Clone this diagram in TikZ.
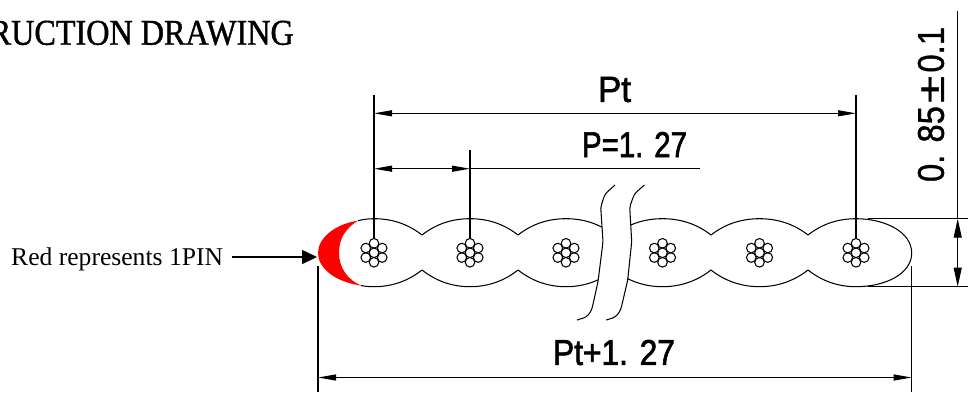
\documentclass[tikz,border=0pt]{standalone}
\usepackage{fontspec}
\setmainfont{Liberation Serif}
\newfontfamily\dimfont{Liberation Sans}
\usetikzlibrary{arrows.meta}
\newcommand{\heavy}[2]{\special{pdf:code 2 Tr #1 w}#2\special{pdf:code 0 Tr}}
\tikzset{
  x=1pt,y=-1pt,
  cad/.style={line width=1.05pt,black},
  extline/.style={line width=1.1pt,black},
  dimline/.style={line width=1.1pt,black,{Triangle[length=18pt,width=6pt]}-{Triangle[length=18pt,width=6pt]}},
  vdim/.style={line width=1.1pt,black,{Triangle[length=19pt,width=8pt]}-{Triangle[length=19pt,width=8pt]}},
  callout/.style={line width=1.6pt,black,-{Triangle[length=15pt,width=14pt]}},
  dimtext/.style={inner sep=0pt,outer sep=0pt,font=\dimfont},
  wire/.style={line width=1.05pt,black,fill=white},
}
\newcommand{\lobeTop}[3]{(#1,235) .. controls ({#1+14},224) and ({#2-18},218.7) .. (#2,218.7) .. controls ({#2+18},218.7) and ({#3-14},224) .. (#3,235)}
\newcommand{\lobeBot}[3]{(#1,270) .. controls ({#1+14},281) and ({#2-18},286.7) .. (#2,286.7) .. controls ({#2+18},286.7) and ({#3-14},281) .. (#3,270)}
\begin{document}
\begin{tikzpicture}
\useasboundingbox (0,0) rectangle (968,392);
% title, cut by the left edge of the picture
\begin{scope}
  \clip (0,0) rectangle (968,392);
  \node[anchor=east,inner sep=0pt] (title) at (294,33) {\resizebox{304pt}{24pt}{\heavy{0.12}{RUCTION DRAWING}}};
\end{scope}
% red crescent
\fill[red] (358,220.7) .. controls (335,224) and (318,238) .. (318,253)
  .. controls (318,268) and (335,282) .. (361,285.5)
  .. controls (348,280) and (339,268) .. (339,253)
  .. controls (339,238) and (346,228) .. (358,220.7) -- cycle;
% first lobe
\draw[cad] (358,220.7) .. controls (363,219.4) and (368,218.7) .. (374,218.7)
  .. controls (392,218.7) and (408,224) .. (422,235);
\draw[cad] (361,285.5) .. controls (365,286.3) and (369,286.7) .. (374,286.7)
  .. controls (392,286.7) and (408,281) .. (422,270);
% lobes left of the break
\begin{scope}
  \clip (300,190) -- (605,194) -- (600.7,207) -- (603,241.7) -- (598,281.7) -- (591.7,310) -- (300,310) -- cycle;
  \foreach \a/\p/\b in {422/470/518,518/566/614}{
    \draw[cad] \lobeTop{\a}{\p}{\b};
    \draw[cad] \lobeBot{\a}{\p}{\b};
  }
\end{scope}
% lobes right of the break
\begin{scope}
  \clip (930,190) -- (634.3,194) -- (629.7,207) -- (631.7,241.7) -- (627.7,280) -- (620.7,310) -- (930,310) -- cycle;
  \foreach \a/\p/\b in {614/662.5/711,711/759.5/808}{
    \draw[cad] \lobeTop{\a}{\p}{\b};
    \draw[cad] \lobeBot{\a}{\p}{\b};
  }
\end{scope}
% last lobe
\draw[cad] (808,235) .. controls (822,224) and (838,218.7) .. (856,218.7)
  .. controls (885,218.7) and (911.7,232) .. (911.7,253)
  .. controls (911.7,274) and (885,286.7) .. (856,286.7)
  .. controls (838,286.7) and (822,281) .. (808,270);
% break lines
\draw[cad,rounded corners=3pt] (615,185) -- (605,194) -- (600.7,207) -- (603,241.7) -- (598,281.7) -- (591.7,310) -- (586.7,317) -- (577,320);
\draw[cad,rounded corners=3pt] (644.3,185) -- (634.3,194) -- (629.7,207) -- (631.7,241.7) -- (627.7,280) -- (620.7,310) -- (615.7,317) -- (606.3,320);
% strands
\foreach \c in {374,470,566,662.5,759.5,856}{
  \foreach \ang in {30,90,150,210,270,330}{
    \draw[wire] ({\c+9.5*cos(\ang)},{252.8+9.5*sin(\ang)}) circle[radius=4.8];
  }
  \draw[wire] (\c,252.8) circle[radius=4.8];
}
% named ends of the dimension lines
\coordinate (e1t) at (374,95);   \coordinate (e1b) at (374,238.2);
\coordinate (e2t) at (470,150);  \coordinate (e2b) at (470,238.2);
\coordinate (e6t) at (856,95);   \coordinate (e6b) at (856,238.2);
\coordinate (pta) at (374,113.3); \coordinate (ptb) at (856,113.3);
\coordinate (pa) at (374,168.7);  \coordinate (pb) at (470,168.7); \coordinate (pc) at (700,168.7);
\coordinate (ll) at (318,266);    \coordinate (llb) at (318,392);
\coordinate (rl) at (911.7,266);  \coordinate (rlb) at (911.7,392);
\coordinate (wa) at (318,377.5);  \coordinate (wb) at (911.7,377.5);
\coordinate (ut) at (868,218.7);  \coordinate (ute) at (968,218.7);
\coordinate (ub) at (868,286.6);  \coordinate (ube) at (968,286.6);
\coordinate (va) at (957.7,218.7); \coordinate (vb) at (957.7,286.6); \coordinate (vt) at (957.7,11);
\coordinate (arrowtip) at (317,257);
% dimension lines
\draw[extline] (e1t) -- (e1b);
\draw[extline] (e2t) -- (e2b);
\draw[extline] (e6t) -- (e6b);
\draw[dimline] (pta) -- (ptb);
\draw[dimline] (pa) -- (pb);
\draw[extline] (pb) -- (pc);
\draw[extline] (ll) -- (llb);
\draw[extline] (rl) -- (rlb);
\draw[dimline] (wa) -- (wb);
\draw[extline] (ut) -- (ute);
\draw[extline] (ub) -- (ube);
\draw[vdim] (va) -- (vb);
\draw[extline] (vt) -- (va);
% dimension texts
\node[dimtext] (ptlabel) at (614.5,89.5) {\resizebox{33pt}{25pt}{\heavy{0.2}{Pt}}};
\node[dimtext] (plabel) at (634.5,144.5) {\resizebox{105pt}{25pt}{\heavy{0.2}{P=1. 27}}};
\node[dimtext] (wlabel) at (614,352.5) {\resizebox{122pt}{25pt}{\heavy{0.2}{Pt+1. 27}}};
\node[dimtext,rotate=90] (hlabel) at (931,104.5) {\resizebox{155pt}{26pt}{\heavy{0.1}{0. 85\kern1pt\scalebox{1.5}[1]{±}\kern1pt 0.1}}};
% callout
\node[anchor=base west,inner sep=0pt,font=\fontsize{25.6}{30}\selectfont] (redlabel) at (11,265.7) {Red represents 1PIN};
\coordinate (arrowstart) at (232,257);
\draw[callout] (arrowstart) -- (arrowtip);
\end{tikzpicture}
\end{document}
